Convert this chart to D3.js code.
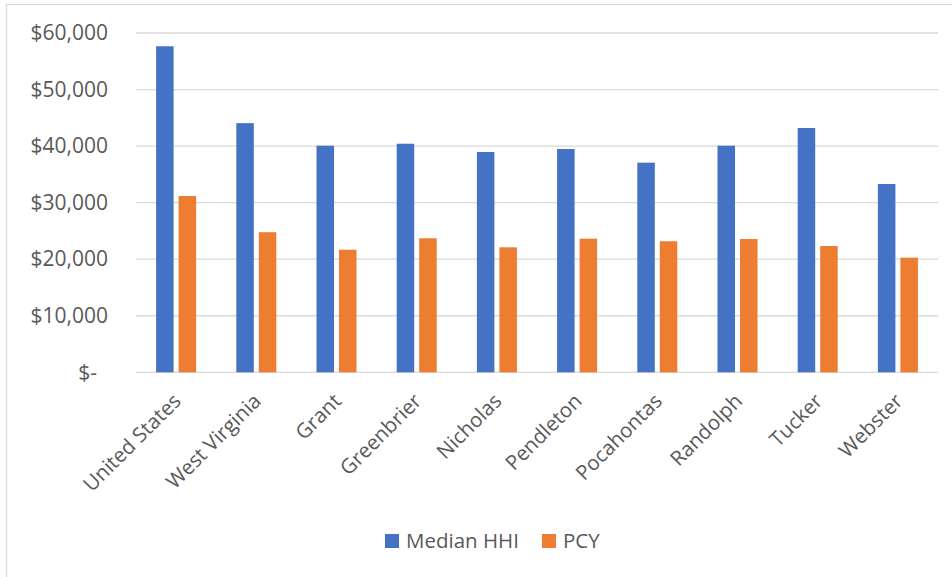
<!DOCTYPE html>
<html>
<head>
<meta charset="utf-8">
<script src="https://cdn.jsdelivr.net/npm/d3@7"></script>
<style>
  html, body { margin: 0; padding: 0; background: #fff; }
  svg { display: block; }
  text { font-family: "Open Sans", "Liberation Sans", Arial, sans-serif; fill: #595959; }
</style>
</head>
<body>
<svg id="chart" width="952" height="577"></svg>
<script>
// Income by area
const categories = ["United States", "West Virginia", "Grant", "Greenbrier", "Nicholas",
                    "Pendleton", "Pocahontas", "Randolph", "Tucker", "Webster"];
const seriesNames = ["Median HHI", "PCY"];
const medianHHI = [57652, 44061, 40070, 40420, 38960, 39490, 37070, 40070, 43200, 33300];
const pcy       = [31177, 24774, 21680, 23700, 22100, 23630, 23170, 23570, 22330, 20270];
const yTicks = [0, 10000, 20000, 30000, 40000, 50000, 60000];
const colors = ["#4472C4", "#ED7D31"];

const svg = d3.select("#chart");

// chart area frame
svg.append("rect")
  .attr("x", 6.5).attr("y", 4.5)
  .attr("width", 980).attr("height", 620)
  .attr("fill", "none").attr("stroke", "#d9d9d9").attr("stroke-width", 1.3);

const plot = { left: 136, right: 938, top: 33, bottom: 372.3 };

const y = d3.scaleLinear().domain([0, 60000]).range([plot.bottom, plot.top]);
const x0 = d3.scaleBand().domain(categories).range([plot.left, plot.right]);
const groupW = 40;
const x1 = d3.scaleBand().domain(seriesNames)
  .range([(x0.step() - groupW) / 2, (x0.step() + groupW) / 2])
  .paddingInner(0.222);

// gridlines
svg.append("g")
  .selectAll("line").data(yTicks).join("line")
  .attr("x1", plot.left).attr("x2", plot.right)
  .attr("y1", d => y(d)).attr("y2", d => y(d))
  .attr("stroke", "#d9d9d9").attr("stroke-width", 1.3);

// y axis labels
const fmt = d3.format("$,.0f");
const yAxis = d3.axisLeft(y).tickValues(yTicks)
  .tickSize(0).tickPadding(0)
  .tickFormat(d => d === 0 ? "$-" : fmt(d));
const gy = svg.append("g")
  .attr("transform", `translate(${plot.left - 28},0)`)
  .call(yAxis);
gy.select(".domain").remove();
gy.selectAll("text")
  .style("font-size", "21px")
  .attr("fill", "#595959")
  .attr("dx", d => d === 0 ? -11 : 0);

// bars
const rows = categories.map((c, i) => ({ cat: c, values: [medianHHI[i], pcy[i]] }));
const groups = svg.append("g").selectAll("g").data(rows).join("g")
  .attr("transform", d => `translate(${x0(d.cat)},0)`);
groups.selectAll("rect")
  .data(d => d.values.map((v, j) => ({ key: seriesNames[j], v, j })))
  .join("rect")
  .attr("x", d => x1(d.key))
  .attr("width", x1.bandwidth())
  .attr("y", d => y(d.v))
  .attr("height", d => y(0) - y(d.v))
  .attr("fill", d => colors[d.j]);

// x axis labels (rotated)
const xAxis = d3.axisBottom(x0).tickSize(0).tickPadding(0);
const gx = svg.append("g")
  .attr("transform", `translate(0,${plot.bottom})`)
  .call(xAxis);
gx.select(".domain").remove();
gx.selectAll("text")
  .style("font-size", "20.5px")
  .attr("fill", "#595959")
  .attr("text-anchor", "end")
  .attr("dy", "0.35em")
  .attr("y", 0)
  .attr("transform", "translate(1,25) rotate(-45)");

// legend
const legend = svg.append("g").attr("transform", "translate(385,541)");
const items = [{ name: seriesNames[0], x: 0 }, { name: seriesNames[1], x: 157 }];
items.forEach((it, j) => {
  legend.append("rect")
    .attr("x", it.x).attr("y", -7).attr("width", 14).attr("height", 14)
    .attr("fill", colors[j]);
  legend.append("text")
    .attr("x", it.x + 21).attr("y", 0).attr("dy", "0.35em")
    .style("font-size", "20.5px")
    .text(it.name);
});
</script>
</body>
</html>
